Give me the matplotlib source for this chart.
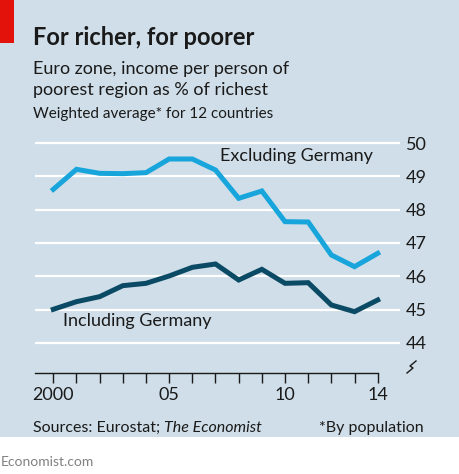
import matplotlib
matplotlib.use("Agg")
import matplotlib.pyplot as plt
from matplotlib.patches import Rectangle
from matplotlib.lines import Line2D

years = list(range(2000, 2015))
excl_germany = [48.61, 49.21, 49.09, 49.08, 49.11, 49.52, 49.52, 49.19,
                48.34, 48.56, 47.64, 47.63, 46.64, 46.29, 46.69]
incl_germany = [45.01, 45.24, 45.39, 45.72, 45.79, 46.01, 46.27, 46.37,
                45.89, 46.21, 45.79, 45.81, 45.14, 44.94, 45.29]
y_ticks = [44, 45, 46, 47, 48, 49, 50]
x_labels = {2000: "2000", 2005: "05", 2010: "10", 2014: "14"}

BG = "#cfdee8"
LIGHT = "#17a5dc"
DARK = "#0b4a64"
TXT = "#1a1a1a"

plt.rcParams["font.family"] = ["Lato", "DejaVu Sans"]

W, H = 460, 474
fig = plt.figure(figsize=(W / 100, H / 100), dpi=100)
fig.patch.set_facecolor("white")

# blue panel + red tag
fig.patches.append(Rectangle((0, 1 - 437 / H), 1, 437 / H, transform=fig.transFigure,
                             facecolor=BG, edgecolor="none", zorder=-5))
fig.patches.append(Rectangle((0, 1 - 43 / H), 14 / W, 43 / H, transform=fig.transFigure,
                             facecolor="#e3120b", edgecolor="none", zorder=-4))

def fx(px):
    return px / W

def fy(py):
    return 1 - py / H

fig.text(fx(33), fy(45), "For richer, for poorer", fontsize=17, fontweight="bold",
         color=TXT, va="baseline")
fig.text(fx(33), fy(74), "Euro zone, income per person of", fontsize=13, color=TXT, va="baseline")
fig.text(fx(33), fy(95), "poorest region as % of richest", fontsize=13, color=TXT, va="baseline")
fig.text(fx(33), fy(118), "Weighted average* for 12 countries", fontsize=11, color=TXT, va="baseline")

# chart area
ax_l, ax_r, ax_t, ax_b = 35, 400, 140, 373
ax = fig.add_axes([fx(ax_l), fy(ax_b), (ax_r - ax_l) / W, (ax_b - ax_t) / H])
ax.set_zorder(2)
ax.set_facecolor("none")
x0 = 2000 - (53.3 - 35) / 23.17
x1 = 2014 + (400 - 377.7) / 23.17
ax.set_xlim(x0, x1)
ylo = 44 - 30 / 33.33
yhi = 50 + 3 / 33.33
ax.set_ylim(ylo, yhi)

for v in y_ticks:
    ax.axhline(v, color="white", lw=1.6, zorder=1)

ax.plot(years, excl_germany, color=LIGHT, lw=3.6, solid_joinstyle="miter", zorder=3)
ax.plot(years, incl_germany, color=DARK, lw=3.6, solid_joinstyle="miter", zorder=3)

ax.text(2007.2, 49.45, "Excluding Germany", fontsize=13, color=TXT, va="baseline")
ax.text(2000.4, 44.5, "Including Germany", fontsize=13, color=TXT, va="baseline")

for s in ["top", "left", "right"]:
    ax.spines[s].set_visible(False)
ax.spines["bottom"].set_bounds(x0, 2014)
ax.spines["bottom"].set_color(TXT)
ax.spines["bottom"].set_linewidth(1.0)

ax.set_xticks(years)
ax.set_xticklabels([x_labels.get(y, "") for y in years])
ax.tick_params(axis="x", length=7, width=1.0, color=TXT, labelsize=13,
               labelcolor=TXT, pad=3)
ax.yaxis.tick_right()
ax.set_yticks(y_ticks)
ax.set_yticklabels([str(v) for v in y_ticks])
ax.tick_params(axis="y", length=0, labelsize=13, labelcolor=TXT, pad=4)

# axis break mark
bx, by = 412, 367
fig.add_artist(Line2D([fx(bx - 5), fx(bx + 1), fx(bx - 2), fx(bx + 4)],
                      [fy(by + 6), fy(by + 1), fy(by - 1), fy(by - 6)],
                      color=TXT, lw=1.0, transform=fig.transFigure))

src = fig.text(fx(33), fy(432), "Sources: Eurostat; ", fontsize=11.5, color=TXT, va="baseline")
fig.canvas.draw()
bb = src.get_window_extent()
fig.text(bb.x1 / W, fy(432), "The Economist", fontsize=11.5, color=TXT, va="baseline",
         style="italic")
fig.text(fx(424), fy(432), "*By population", fontsize=11.5, color=TXT, va="baseline", ha="right")
fig.text(fx(1), fy(466), "Economist.com", fontsize=10, color="#808080", va="baseline")

fig.savefig("out.png", dpi=100, facecolor="white")
